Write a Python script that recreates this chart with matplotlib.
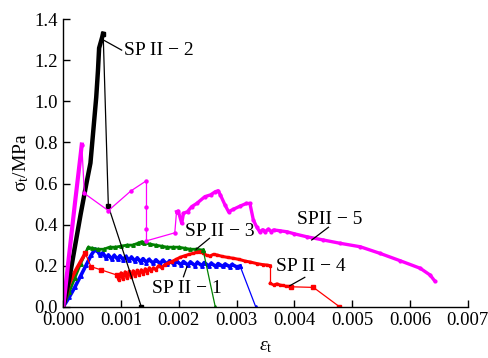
import matplotlib
matplotlib.use('Agg')
import matplotlib.pyplot as plt

plt.rcParams['font.family'] = ['Liberation Serif', 'DejaVu Serif']
plt.rcParams['mathtext.fontset'] = 'custom'
plt.rcParams['mathtext.rm'] = 'Liberation Serif'
plt.rcParams['mathtext.it'] = 'Liberation Serif:italic'

# SP II-2 (black)
sp2_dense_x = [0, 0.0001, 0.0002, 0.0003, 0.0004, 0.00047, 0.00052, 0.00057, 0.0006, 0.00062, 0.00069]
sp2_dense_y = [0, 0.13, 0.29, 0.45, 0.60, 0.70, 0.86, 1.02, 1.15, 1.26, 1.33]
sp2_tail_x = [0.00069, 0.00078, 0.00135]
sp2_tail_y = [1.33, 0.49, 0.0]

# SP II-5 (magenta)
sp5_rise_x = [0, 0.0001, 0.0002, 0.0003, 0.00032]
sp5_rise_y = [0, 0.25, 0.50, 0.74, 0.79]
sp5_thin_x = [0.00032, 0.000365, 0.00078, 0.00117, 0.00144, 0.00144, 0.00144, 0.00144, 0.00193, 0.00196]
sp5_thin_y = [0.79, 0.552, 0.468, 0.564, 0.614, 0.487, 0.378, 0.321, 0.36, 0.463]
sp5_dense_x = [0.00196, 0.00199, 0.00205, 0.00208, 0.00215, 0.00222, 0.00231, 0.00245, 0.00255,
               0.00263, 0.00268, 0.00272, 0.0028, 0.00286, 0.00294, 0.00306, 0.00317, 0.00323,
               0.00329, 0.00335, 0.0034, 0.00345, 0.00349, 0.00355, 0.0036, 0.00364, 0.00375,
               0.00387, 0.004, 0.00421, 0.0045, 0.00479, 0.00514, 0.00548, 0.00583, 0.00618,
               0.00635, 0.00643]
sp5_dense_y = [0.463, 0.466, 0.406, 0.455, 0.463, 0.487, 0.503, 0.536, 0.545,
               0.56, 0.565, 0.544, 0.495, 0.463, 0.474, 0.49, 0.503, 0.503,
               0.422, 0.387, 0.365, 0.375, 0.365, 0.378, 0.366, 0.374, 0.37,
               0.365, 0.355, 0.341, 0.325, 0.309, 0.292, 0.26, 0.224, 0.187,
               0.154, 0.125]

# SP II-3 (green)
sp3_dense_x = [0, 0.0001, 0.0002, 0.0003, 0.00043, 0.0005, 0.0006, 0.0007, 0.0008, 0.0009, 0.001,
               0.0011, 0.0012, 0.0013, 0.00136, 0.0014, 0.0015, 0.0016, 0.0017, 0.0018, 0.0019,
               0.002, 0.0021, 0.0022, 0.0023, 0.00242]
sp3_dense_y = [0, 0.07, 0.14, 0.21, 0.289, 0.285, 0.28, 0.28, 0.29, 0.29, 0.295,
               0.30, 0.30, 0.31, 0.317, 0.312, 0.305, 0.30, 0.295, 0.29, 0.29,
               0.29, 0.285, 0.28, 0.28, 0.276]
sp3_tail_x = [0.00242, 0.00263]
sp3_tail_y = [0.276, 0.0]

# SP II-1 (blue)
sp1_dense_x = [0, 0.0001, 0.0002, 0.0003, 0.0004, 0.00048, 0.00055,
               0.00058, 0.00064, 0.00068, 0.00074, 0.00078, 0.00084, 0.00088, 0.00094, 0.00098,
               0.00104, 0.00108, 0.00114, 0.00118, 0.00124, 0.00128, 0.00134, 0.00138, 0.00144,
               0.00148, 0.00156, 0.0016, 0.00168, 0.00172, 0.0018, 0.00184, 0.00192, 0.00196,
               0.00204, 0.00208, 0.00216, 0.0022, 0.00228, 0.00232, 0.0024, 0.00244, 0.00252,
               0.00256, 0.00264, 0.00268, 0.00276, 0.0028, 0.00288, 0.00292, 0.003, 0.00306]
sp1_dense_y = [0, 0.045, 0.095, 0.15, 0.205, 0.25, 0.28,
               0.276, 0.25, 0.262, 0.238, 0.252, 0.232, 0.25, 0.232, 0.248,
               0.228, 0.245, 0.226, 0.242, 0.222, 0.238, 0.218, 0.234, 0.215,
               0.23, 0.212, 0.228, 0.21, 0.226, 0.208, 0.224, 0.206, 0.222,
               0.204, 0.22, 0.202, 0.218, 0.2, 0.216, 0.2, 0.215, 0.198,
               0.212, 0.196, 0.21, 0.196, 0.208, 0.195, 0.206, 0.194, 0.198]
sp1_tail_x = [0.00306, 0.00333]
sp1_tail_y = [0.198, 0.0]

# SP II-4 (red)
sp4_rise_x = [0, 0.0001, 0.0002, 0.0003, 0.00038]
sp4_rise_y = [0, 0.11, 0.17, 0.22, 0.26]
sp4_thin_x = [0.00038, 0.00048, 0.00066, 0.00093]
sp4_thin_y = [0.26, 0.195, 0.179, 0.154]
sp4_mid_x = [0.00093, 0.00096, 0.001, 0.00103, 0.00107, 0.0011, 0.00114, 0.00117, 0.00121, 0.00124,
             0.00128, 0.00131, 0.00135, 0.00138, 0.00142, 0.00145, 0.00149, 0.00152, 0.00156,
             0.0016, 0.00165, 0.0017, 0.00176, 0.00182, 0.00188, 0.00195, 0.00202, 0.0021,
             0.00218, 0.00225, 0.00232, 0.00237, 0.00242, 0.00248, 0.00254, 0.0026, 0.00266,
             0.00275, 0.00285, 0.00294, 0.00305, 0.00315, 0.00323, 0.00335, 0.00345, 0.00352,
             0.00358]
sp4_mid_y = [0.154, 0.13, 0.165, 0.135, 0.17, 0.14, 0.172, 0.145, 0.175, 0.15,
             0.178, 0.155, 0.18, 0.16, 0.185, 0.165, 0.19, 0.172, 0.19,
             0.18, 0.2, 0.19, 0.205, 0.213, 0.22, 0.23, 0.24, 0.248,
             0.255, 0.26, 0.265, 0.268, 0.262, 0.25, 0.247, 0.255, 0.252,
             0.245, 0.24, 0.236, 0.23, 0.222, 0.218, 0.21, 0.205, 0.203,
             0.2]
sp4_drop_x = [0.00358, 0.00358]
sp4_drop_y = [0.2, 0.114]
sp4_low_x = [0.00358, 0.00364, 0.0037, 0.00375, 0.0038, 0.00385, 0.0039, 0.00395]
sp4_low_y = [0.114, 0.106, 0.112, 0.106, 0.104, 0.1, 0.1, 0.097]
sp4_tail_x = [0.00395, 0.00433, 0.00478]
sp4_tail_y = [0.097, 0.094, 0.0]

# label text, text anchor (left, middle) and leader line ends
labels = ['SP II − 2', 'SP II − 3', 'SP II − 1', 'SP II − 4', 'SPII − 5']
label_xy = [(0.00105, 1.25), (0.00211, 0.365), (0.00153, 0.09), (0.00368, 0.195), (0.00404, 0.426)]
leader_from = [(0.00101, 1.25), (0.00253, 0.333), (0.00208, 0.146), (0.00418, 0.143), (0.00459, 0.387)]
leader_to = [(0.00069, 1.30), (0.0023, 0.28), (0.00214, 0.195), (0.00392, 0.102), (0.0043, 0.325)]

fig = plt.figure(figsize=(4.88, 3.58), dpi=100)
ax = fig.add_axes([0.1297, 0.1433, 0.8287, 0.8027])

magenta = '#ff00ff'
red = '#ff0000'
green = '#008000'
blue = '#0000ff'

# thick (densely sampled) parts
ax.plot(sp1_dense_x, sp1_dense_y, color=blue, lw=2.6, marker='^', ms=2.5)
ax.plot(sp3_dense_x, sp3_dense_y, color=green, lw=2.0, marker='^', ms=2.5)
ax.plot(sp4_rise_x, sp4_rise_y, color=red, lw=2.6)
ax.plot(sp4_mid_x, sp4_mid_y, color=red, lw=2.2, marker='s', ms=2)
ax.plot(sp4_low_x, sp4_low_y, color=red, lw=2.0, marker='s', ms=2)
ax.plot(sp2_dense_x, sp2_dense_y, color='black', lw=3.2)
ax.plot(sp5_rise_x, sp5_rise_y, color=magenta, lw=3.0)
ax.plot(sp5_dense_x, sp5_dense_y, color=magenta, lw=2.4, marker='o', ms=2)

# sparse segments drawn thin with point markers
ax.plot(sp2_tail_x, sp2_tail_y, color='black', lw=0.9, marker='s', ms=2.2)
ax.plot(sp5_thin_x, sp5_thin_y, color=magenta, lw=0.9, marker='o', ms=2.2)
ax.plot(sp3_tail_x, sp3_tail_y, color=green, lw=0.9, marker='^', ms=2.8)
ax.plot(sp1_tail_x, sp1_tail_y, color=blue, lw=0.9, marker='^', ms=2.8)
ax.plot(sp4_thin_x, sp4_thin_y, color=red, lw=0.9, marker='s', ms=2.2)
ax.plot(sp4_drop_x, sp4_drop_y, color=red, lw=0.9)
ax.plot(sp4_tail_x, sp4_tail_y, color=red, lw=0.9, marker='s', ms=2.2)

for text, (tx, ty), (x0, y0), (x1, y1) in zip(labels, label_xy, leader_from, leader_to):
    ax.plot([x0, x1], [y0, y1], color='black', lw=0.9)
    ax.text(tx, ty, text, fontsize=14, ha='left', va='center')

ax.set_xlim(0, 0.007)
ax.set_ylim(0, 1.4)
ax.set_xticks([0, 0.001, 0.002, 0.003, 0.004, 0.005, 0.006, 0.007])
ax.set_xticklabels(['0.000', '0.001', '0.002', '0.003', '0.004', '0.005', '0.006', '0.007'])
ax.set_yticks([0, 0.2, 0.4, 0.6, 0.8, 1.0, 1.2, 1.4])
ax.set_yticklabels(['0.0', '0.2', '0.4', '0.6', '0.8', '1.0', '1.2', '1.4'])
ax.tick_params(direction='in', length=5, width=1, labelsize=13.5, pad=4)
ax.spines['top'].set_visible(False)
ax.spines['right'].set_visible(False)
for s in ['left', 'bottom']:
    ax.spines[s].set_linewidth(1)

ax.set_xlabel(r'$\varepsilon_\mathrm{t}$', fontsize=14, labelpad=6)
ax.set_ylabel(r'$\mathrm{\sigma_t}$/MPa', fontsize=14, labelpad=2)

fig.savefig('out.png', dpi=100)
